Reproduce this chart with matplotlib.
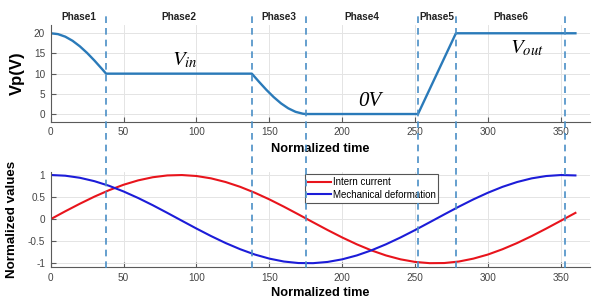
import numpy as np
import matplotlib
matplotlib.use("Agg")
import matplotlib.pyplot as plt
import matplotlib.transforms as mtransforms
from matplotlib.lines import Line2D

plt.rcParams['font.family'] = ['Liberation Sans', 'DejaVu Sans']
plt.rcParams['mathtext.fontset'] = 'stix'
plt.rcParams['axes.unicode_minus'] = False

# applied voltage over one cycle
vp_t = [0, 5, 10, 15, 20, 25, 30, 35, 38,
        138, 143, 148, 153, 158, 163, 168, 173, 175,
        252, 278, 360]
vp_v = [20, 19.79, 19.16, 18.14, 16.77, 15.12, 13.25, 11.24, 10,
        10, 7.95, 5.98, 4.19, 2.64, 1.41, 0.54, 0.08, 0,
        0, 20, 20]

# normalized current / deformation
t = list(range(0, 361, 10))
current = [0, .178, .349, .510, .655, .779, .878, .949, .990, .999,
           .977, .924, .841, .732, .599, .448, .282, .107, -.071, -.247,
           -.415, -.570, -.707, -.822, -.910, -.969, -.997, -.994, -.960, -.894,
           -.801, -.681, -.541, -.383, -.213, -.036, .142]
deform = [1, .984, .937, .860, .756, .627, .479, .316, .142, -.036,
          -.213, -.383, -.541, -.681, -.801, -.894, -.960, -.994, -.997, -.969,
          -.910, -.822, -.707, -.570, -.415, -.247, -.071, .107, .282, .448,
          .599, .732, .841, .924, .977, .999, .990]

phase_edges = [38, 138, 175, 252, 278, 353]
phase_names = ['Phase1', 'Phase2', 'Phase3', 'Phase4', 'Phase5', 'Phase6']
x_ticks = [0, 50, 100, 150, 200, 250, 300, 350]
vp_ticks = [0, 5, 10, 15, 20]
norm_ticks = [-1, -0.5, 0, 0.5, 1]
norm_ticklabels = ['-1', '-0.5', '0', '0.5', '1']

fig = plt.figure(figsize=(5.95, 2.99), dpi=100)
ax1 = fig.add_axes([0.0852, 0.593, 0.9064, 0.3234])
ax2 = fig.add_axes([0.0852, 0.107, 0.9064, 0.3188])

line_blue = '#2a7ab9'
for ax in (ax1, ax2):
    ax.set_xlim(0, 370)
    ax.set_xticks(x_ticks)
    ax.grid(True, color='#e4e4e4', lw=0.7)
    ax.set_axisbelow(True)
    for s in ('top', 'right'):
        ax.spines[s].set_visible(False)
    for s in ('left', 'bottom'):
        ax.spines[s].set_color('#5a5a5a')
        ax.spines[s].set_linewidth(0.8)
    ax.tick_params(direction='in', length=3.5, width=0.8, color='#5a5a5a',
                   labelsize=7.2, labelcolor='#444444', pad=4)

ax1.plot(vp_t, vp_v, color=line_blue, lw=1.7)
ax1.set_ylim(-1.9, 22.05)
ax1.set_yticks(vp_ticks)
ax1.set_ylabel('Vp(V)', fontsize=12, fontweight='bold')
ax1.yaxis.set_label_coords(-0.048, 0.5)
ax1.set_xlabel('Normalized time', fontsize=9.2, fontweight='bold')
ax1.xaxis.set_label_coords(0.499, -0.282)
ax1.xaxis.label.set_va('center')

ax1.text(92, 13.4, r'$V_{in}$', fontsize=15, ha='center', va='center')
ax1.text(219, 3.0, '0V', fontsize=15, ha='center', va='center',
         family='Liberation Serif', style='italic')
ax1.text(327, 16.4, r'$V_{out}$', fontsize=15, ha='center', va='center')

ax2.plot(t, current, color='#e8141c', lw=1.5, label='Intern current')
ax2.plot(t, deform, color='#1c1cd8', lw=1.5, label='Mechanical deformation')
ax2.set_ylim(-1.084, 1.075)
ax2.set_yticks(norm_ticks)
ax2.set_yticklabels(norm_ticklabels)
ax2.set_ylabel('Normalized values', fontsize=9.6, fontweight='bold')
ax2.yaxis.set_label_coords(-0.061, 0.5)
ax2.set_xlabel('Normalized time', fontsize=9.2, fontweight='bold')
ax2.xaxis.set_label_coords(0.499, -0.273)
ax2.xaxis.label.set_va('center')

leg = ax2.legend(loc='upper left', bbox_to_anchor=(0.4715, 0.973),
                 borderaxespad=0, fontsize=7, handlelength=2.4,
                 handletextpad=0.15, borderpad=0.3, labelspacing=0.25,
                 fancybox=False, framealpha=1)
leg.get_frame().set_edgecolor('#555555')
leg.get_frame().set_linewidth(0.8)

# phase boundaries spanning both panels
trans = mtransforms.blended_transform_factory(ax1.transData, fig.transFigure)
for xe in phase_edges:
    fig.add_artist(Line2D([xe, xe], [0.1037, 0.9565], transform=trans,
                          color='#4a8fc6', lw=1.2, ls=(0, (4, 3))))

bounds = [0] + phase_edges
for i, name in enumerate(phase_names):
    xc = (bounds[i] + bounds[i + 1]) / 2
    fig.text(xc, 0.943, name, transform=trans, ha='center', va='center',
             fontsize=7.2, fontweight='bold', color='#222222')

fig.savefig('out.png', dpi=100)
